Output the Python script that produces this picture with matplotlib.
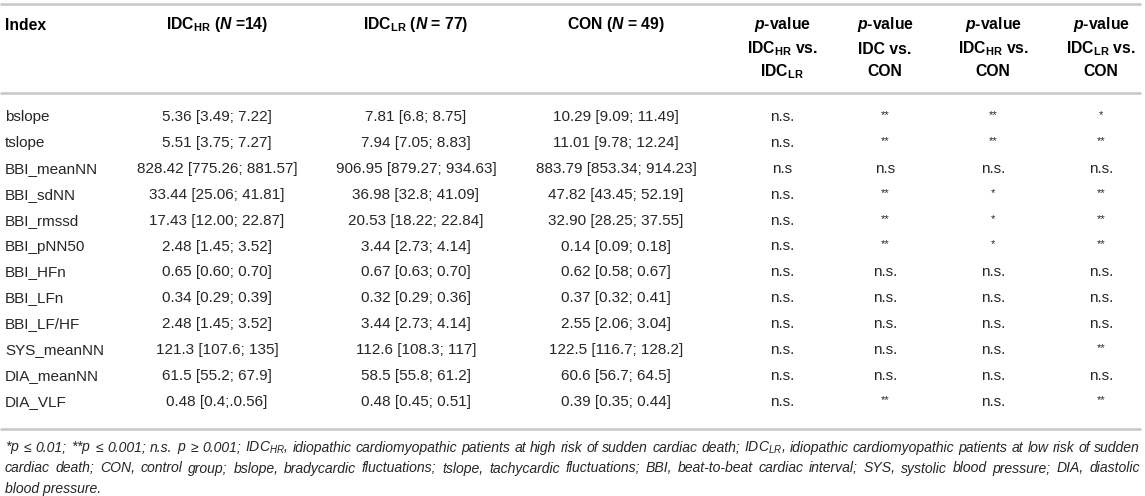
import matplotlib
matplotlib.use("Agg")
import matplotlib.pyplot as plt

plt.rcParams["font.family"] = ["Liberation Sans", "DejaVu Sans"]
plt.rcParams["mathtext.fontset"] = "custom"
plt.rcParams["mathtext.rm"] = "Liberation Sans"
plt.rcParams["mathtext.it"] = "Liberation Sans:italic"
plt.rcParams["mathtext.bf"] = "Liberation Sans:bold"
plt.rcParams["mathtext.bfit"] = "Liberation Sans:bold:italic"

# table content
index_labels = ["bslope", "tslope", "BBI_meanNN", "BBI_sdNN", "BBI_rmssd",
                "BBI_pNN50", "BBI_HFn", "BBI_LFn", "BBI_LF/HF", "SYS_meanNN",
                "DIA_meanNN", "DIA_VLF"]
idc_hr = ["5.36 [3.49; 7.22]", "5.51 [3.75; 7.27]", "828.42 [775.26; 881.57]",
          "33.44 [25.06; 41.81]", "17.43 [12.00; 22.87]", "2.48 [1.45; 3.52]",
          "0.65 [0.60; 0.70]", "0.34 [0.29; 0.39]", "2.48 [1.45; 3.52]",
          "121.3 [107.6; 135]", "61.5 [55.2; 67.9]", "0.48 [0.4;.0.56]"]
idc_lr = ["7.81 [6.8; 8.75]", "7.94 [7.05; 8.83]", "906.95 [879.27; 934.63]",
          "36.98 [32.8; 41.09]", "20.53 [18.22; 22.84]", "3.44 [2.73; 4.14]",
          "0.67 [0.63; 0.70]", "0.32 [0.29; 0.36]", "3.44 [2.73; 4.14]",
          "112.6 [108.3; 117]", "58.5 [55.8; 61.2]", "0.48 [0.45; 0.51]"]
con = ["10.29 [9.09; 11.49]", "11.01 [9.78; 12.24]", "883.79 [853.34; 914.23]",
       "47.82 [43.45; 52.19]", "32.90 [28.25; 37.55]", "0.14 [0.09; 0.18]",
       "0.62 [0.58; 0.67]", "0.37 [0.32; 0.41]", "2.55 [2.06; 3.04]",
       "122.5 [116.7; 128.2]", "60.6 [56.7; 64.5]", "0.39 [0.35; 0.44]"]
p_hr_lr = ["n.s.", "n.s.", "n.s", "n.s.", "n.s.", "n.s.",
           "n.s.", "n.s.", "n.s.", "n.s.", "n.s.", "n.s."]
p_idc_con = ["**", "**", "n.s", "**", "**", "**",
             "n.s.", "n.s.", "n.s.", "n.s.", "n.s.", "**"]
p_hr_con = ["**", "**", "n.s.", "*", "*", "*",
            "n.s.", "n.s.", "n.s.", "n.s.", "n.s.", "n.s."]
p_lr_con = ["*", "**", "n.s.", "**", "**", "**",
            "n.s.", "n.s.", "n.s.", "**", "n.s.", "**"]

headers = [r"IDC$_\mathbf{HR}$ ($\mathbfit{N}$ =14)",
           r"IDC$_\mathbf{LR}$ ($\mathbfit{N}$ = 77)",
           r"CON ($\mathbfit{N}$ = 49)"]
p_headers = [[r"IDC$_\mathbf{HR}$ vs.", r"IDC$_\mathbf{LR}$"],
             ["IDC vs.", "CON"],
             [r"IDC$_\mathbf{HR}$ vs.", "CON"],
             [r"IDC$_\mathbf{LR}$ vs.", "CON"]]

footnote = [
    r"*$p$ ≤ 0.01; **$p$ ≤ 0.001; n.s. $p$ ≥ 0.001; IDC$_{HR}$, idiopathic cardiomyopathic "
    r"patients at high risk of sudden cardiac death; IDC$_{LR}$, idiopathic cardiomyopathic "
    r"patients at low risk of sudden",
    "cardiac death; CON, control group; bslope, bradycardic fluctuations; tslope, tachycardic "
    "fluctuations; BBI, beat-to-beat cardiac interval; SYS, systolic blood pressure; DIA, diastolic",
    "blood pressure.",
]

W, H = 1145, 496
fig = plt.figure(figsize=(W / 100, H / 100), dpi=100)
ax = fig.add_axes([0, 0, 1, 1])
ax.set_xlim(0, W)
ax.set_ylim(H, 0)
ax.axis("off")

rule = "#c6c6c6"
txt = "#262626"
for y in (4, 93, 429):
    ax.plot([0, 1141], [y, y], color=rule, lw=1.8, solid_capstyle="butt")

col_x = [217, 416, 616]
p_x = [782, 885, 993, 1101]
head_kw = dict(fontsize=11.3, fontweight="bold", color="black", va="center")

ax.text(5, 25, "Index", ha="left", **head_kw)
for x, h in zip(col_x, headers):
    ax.text(x, 25, h, ha="center", **head_kw)
for x, (l1, l2) in zip(p_x, p_headers):
    ax.text(x, 25, "$\\mathbfit{p}$-value", ha="center", **head_kw)
    ax.text(x, 49, l1, ha="center", **head_kw)
    ax.text(x, 72, l2, ha="center", **head_kw)

y0, dy = 117, 25.9
cols = [idc_hr, idc_lr, con]
pcols = [p_hr_lr, p_idc_con, p_hr_con, p_lr_con]
for i, lab in enumerate(index_labels):
    y = y0 + i * dy
    ax.text(5, y, lab, ha="left", va="center", fontsize=11, color=txt)
    for x, c in zip(col_x, cols):
        ax.text(x, y, c[i], ha="center", va="center", fontsize=11, color=txt)
    for x, c in zip(p_x, pcols):
        s = c[i]
        if s.startswith("*"):
            ax.text(x, y - 2, s, ha="center", va="center", fontsize=8, color=txt)
        else:
            ax.text(x, y, s, ha="center", va="center", fontsize=11, color=txt)

# footnote, justified like the journal layout (last line ragged)
renderer = fig.canvas.get_renderer()
left, right = 5, 1140
foot_kw = dict(ha="left", va="center", fontsize=10.1, style="italic", color=txt)
for j, line in enumerate(footnote):
    y = 448 + j * 20.5
    if j == len(footnote) - 1:
        ax.text(left, y, line, **foot_kw)
        continue
    words = line.split(" ")
    items = [ax.text(left, y, w, **foot_kw) for w in words]
    widths = [t.get_window_extent(renderer).width for t in items]
    gap = (right - left - sum(widths)) / (len(words) - 1)
    x = left
    for t, w in zip(items, widths):
        t.set_x(x)
        x += w + gap

fig.savefig("out.png", dpi=100)
